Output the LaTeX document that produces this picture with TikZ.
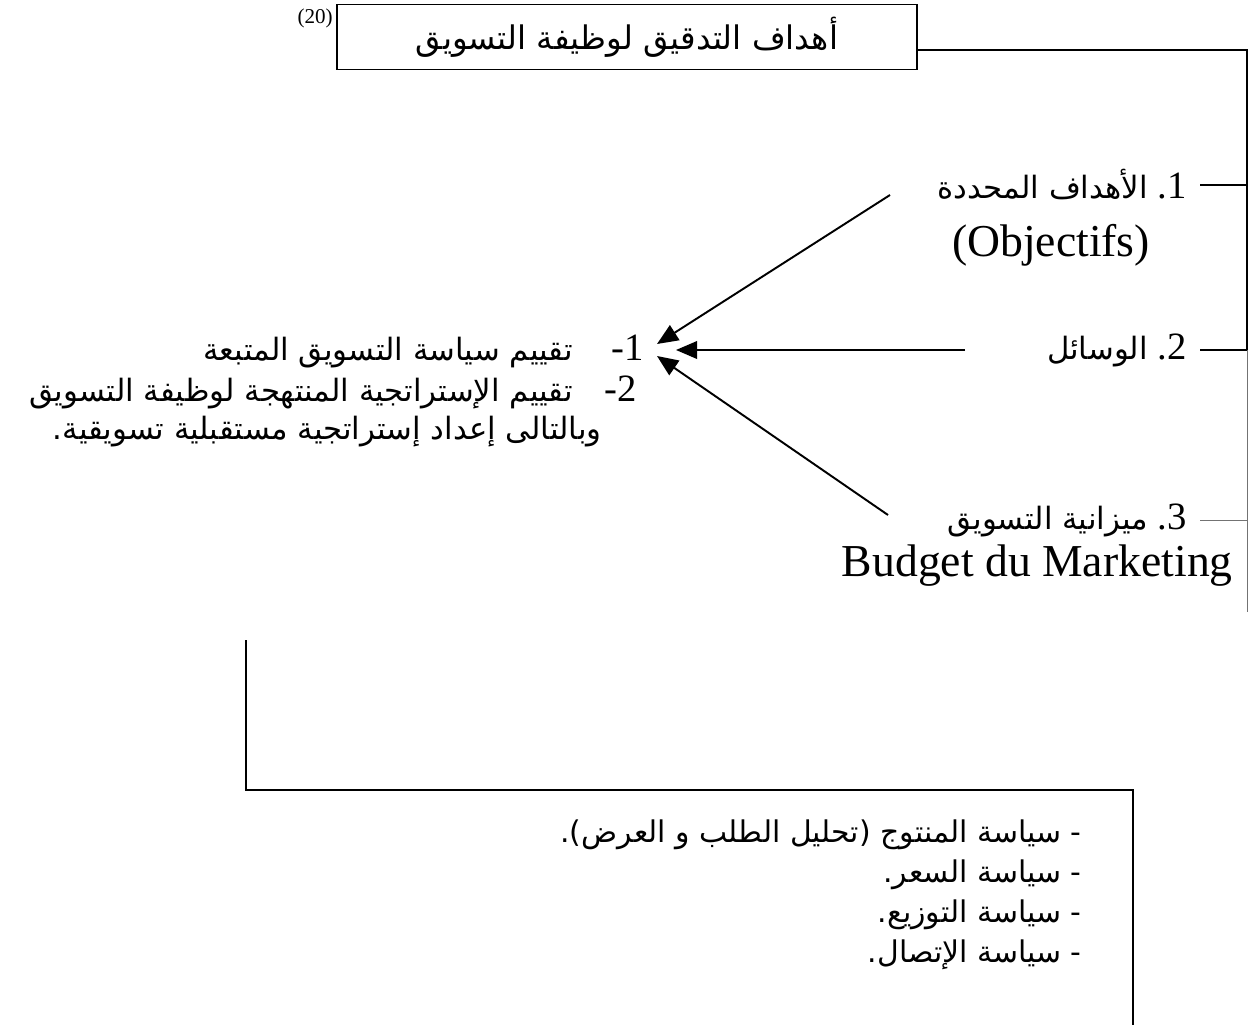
\documentclass[tikz,border=0pt]{standalone}
\usepackage{fontspec}
\setmainfont{Liberation Serif}
\newfontfamily\arfont[Script=Arabic]{DejaVu Sans}
\TeXXeTstate=1
\usetikzlibrary{arrows.meta}
\newcommand\numfont{\rmfamily\fontsize{22}{26}\selectfont}
\begin{document}
\begin{tikzpicture}[x=0.02cm,y=-0.02cm,
  rule/.style={line width=1.1pt},
  faint rule/.style={line width=0.5pt,black!55},
  artext/.style={font=\arfont\fontsize{17.5}{22.8}\selectfont, inner sep=0pt},
  listtext/.style={font=\arfont\fontsize{17}{22.8}\selectfont, inner sep=0pt},
  lattext/.style={font=\fontsize{26}{30}\selectfont, inner sep=0pt},
  hubarrow/.style={rule, -{Triangle[length=12pt,width=10pt]}}]
\useasboundingbox (0,0) rectangle (1249,1025);
\fill[white] (0,0) rectangle (1249,1025);

% title box and its reference number
\node[draw, rule, minimum width=11.6cm, minimum height=1.3cm, inner sep=0pt,
      font=\arfont\fontsize{18.5}{22}\selectfont]
  (title) at (627,37) {\beginR أهداف التدقيق لوظيفة التسويق\endR};
\node[font=\fontsize{12}{14}\selectfont, anchor=east, inner sep=0pt] (ref) at (333,18) {(20)};

% the three objectives on the right
\node[artext, anchor=east] (g1) at (1187,185)
  {\beginR الأهداف المحددة\endR\ {\numfont .1}};
\node[lattext] (obj) at (1051,245) {(Objectifs)};
\node[artext, anchor=east] (g2) at (1187,350)
  {\beginR الوسائل\endR\ {\numfont .2}};
\node[artext, anchor=east] (g3) at (1187,520)
  {\beginR ميزانية التسويق\endR\ {\numfont .3}};
\node[lattext, anchor=east] (bud) at (1233,566) {Budget du Marketing};

% the results on the left
\node[artext, anchor=east] (r1) at (644,351)
  {\beginR تقييم سياسة التسويق المتبعة\endR\hspace{22pt}{\numfont -1}};
\node[artext, anchor=east] (r2) at (637,392)
  {\beginR تقييم الإستراتجية المنتهجة لوظيفة التسويق\endR\hspace{18pt}{\numfont -2}};
\node[artext, anchor=east] (r3) at (602,432)
  {\beginR وبالتالى إعداد إستراتجية مستقبلية تسويقية.\endR};

% the marketing mix list
\node[listtext, anchor=east, align=right] (mix) at (1082,895)
  {\beginR -\ سياسة المنتوج (تحليل الطلب و العرض).\endR\\
   \beginR -\ سياسة السعر.\endR\\
   \beginR -\ سياسة التوزيع.\endR\\
   \beginR -\ سياسة الإتصال.\endR};

% spine on the right
\coordinate (s0) at (1247,50);
\coordinate (s1) at (1247,185);
\coordinate (s2) at (1247,350);
\coordinate (s3) at (1247,520);
\coordinate (s4) at (1247,612);
\draw[rule] (title.east |- s0) -- (s0) -- (s2);
\draw[faint rule] (s2) -- (s4);
\draw[rule] ([xshift=0.26cm]g1.east) -- (s1);
\draw[rule] ([xshift=0.26cm]g2.east) -- (s2);
\draw[faint rule] ([xshift=0.26cm]g3.east) -- (s3);

% arrows converging on the results
\coordinate (a1) at (890,195);
\coordinate (a2) at (965,350);
\coordinate (a3) at (888,515);
\coordinate (h1) at (657,344);
\coordinate (h2) at (676,350);
\coordinate (h3) at (657,356);
\draw[hubarrow] (a1) -- (h1);
\draw[hubarrow] (a2) -- (h2);
\draw[hubarrow] (a3) -- (h3);

% frame leading down to the list
\coordinate (b0) at (246,640);
\coordinate (b1) at (246,790);
\coordinate (b2) at (1133,790);
\coordinate (b3) at (1133,1025);
\draw[rule] (b0) -- (b1) -- (b2) -- (b3);
\end{tikzpicture}
\end{document}
